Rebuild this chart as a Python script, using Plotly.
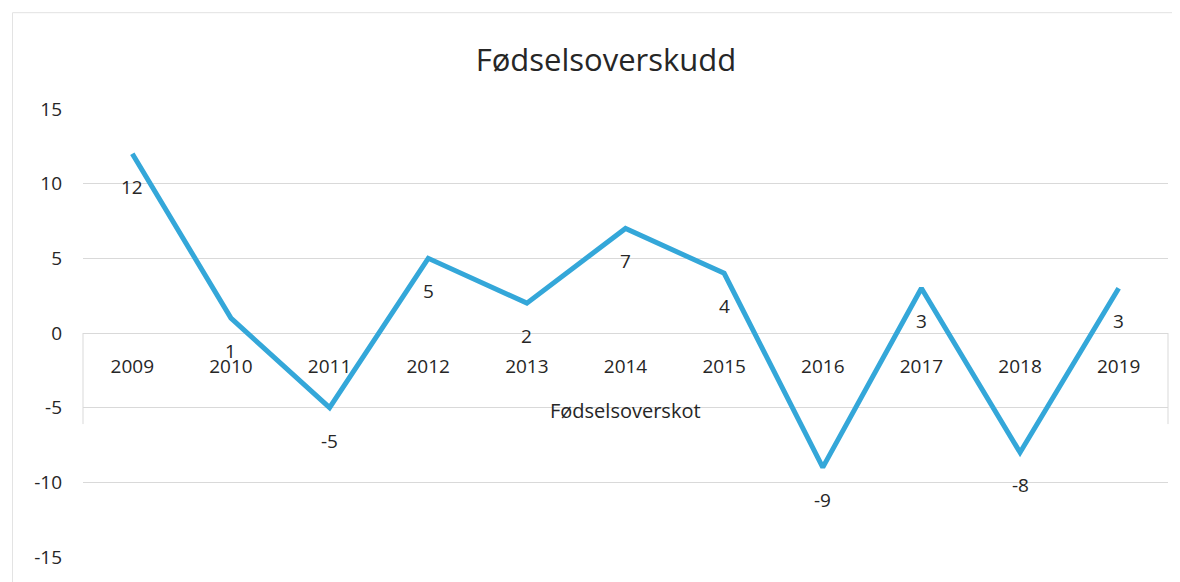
import plotly.graph_objects as go

years = ["2009", "2010", "2011", "2012", "2013", "2014", "2015", "2016", "2017", "2018", "2019"]
values = [12, 1, -5, 5, 2, 7, 4, -9, 3, -8, 3]
y_ticks = [15, 10, 5, 0, -5, -10, -15]

title_text = "Fødselsoverskudd"
axis_title = "Fødselsoverskot"

FONT = "Open Sans"
TXT = "#262626"
GRID = "#d9d9d9"

W, H = 1172, 574

fig = go.Figure()
fig.add_trace(go.Scatter(
    x=years, y=values, mode="lines",
    line=dict(color="#34a7d9", width=5),
    hoverinfo="x+y", showlegend=False,
))

annotations = []
for i, v in enumerate(values):
    annotations.append(dict(
        x=i, y=v, xref="x", yref="y", text=str(v), showarrow=False,
        yshift=-33, font=dict(family=FONT, size=19, color=TXT),
    ))
annotations.append(dict(
    x=0.5, y=0.326, xref="paper", yref="paper", text=axis_title, showarrow=False,
    font=dict(family=FONT, size=20, color=TXT), xanchor="center", yanchor="middle",
))

shapes = [
    dict(type="line", xref="paper", yref="y", x0=0, x1=0, y0=0, y1=-6.1,
         line=dict(color=GRID, width=1)),
    dict(type="line", xref="paper", yref="y", x0=1, x1=1, y0=0, y1=-6.1,
         line=dict(color=GRID, width=1)),
    dict(type="line", xref="paper", yref="paper", x0=-0.065, x1=1.02, y0=1.215, y1=1.215,
         line=dict(color="#e3e3e3", width=1)),
    dict(type="line", xref="paper", yref="paper", x0=-0.065, x1=-0.065, y0=1.215, y1=-0.06,
         line=dict(color="#e3e3e3", width=1)),
]

fig.update_layout(
    width=W, height=H,
    margin=dict(l=75, r=12, t=101, b=25),
    paper_bgcolor="white", plot_bgcolor="white",
    title=dict(text=title_text, x=598 / W, xref="container", xanchor="center",
               y=1 - 52 / H, yref="container", yanchor="middle",
               font=dict(family=FONT, size=31, color=TXT)),
    font=dict(family=FONT, color=TXT),
    xaxis=dict(
        type="category", range=[-0.5, 10.5], anchor="free", position=0.5,
        showgrid=False, showline=False, ticks="", zeroline=False,
        tickfont=dict(family=FONT, size=19, color=TXT),
        ticklabelstandoff=20,
    ),
    yaxis=dict(
        range=[-15, 15], tickvals=y_ticks, ticktext=[str(t) for t in y_ticks],
        showgrid=True, gridcolor=GRID, gridwidth=1,
        zeroline=False, showline=False, ticks="",
        tickfont=dict(family=FONT, size=19, color=TXT), ticklabelstandoff=20,
    ),
    annotations=annotations,
    shapes=shapes,
)

fig.write_html("out.html")
